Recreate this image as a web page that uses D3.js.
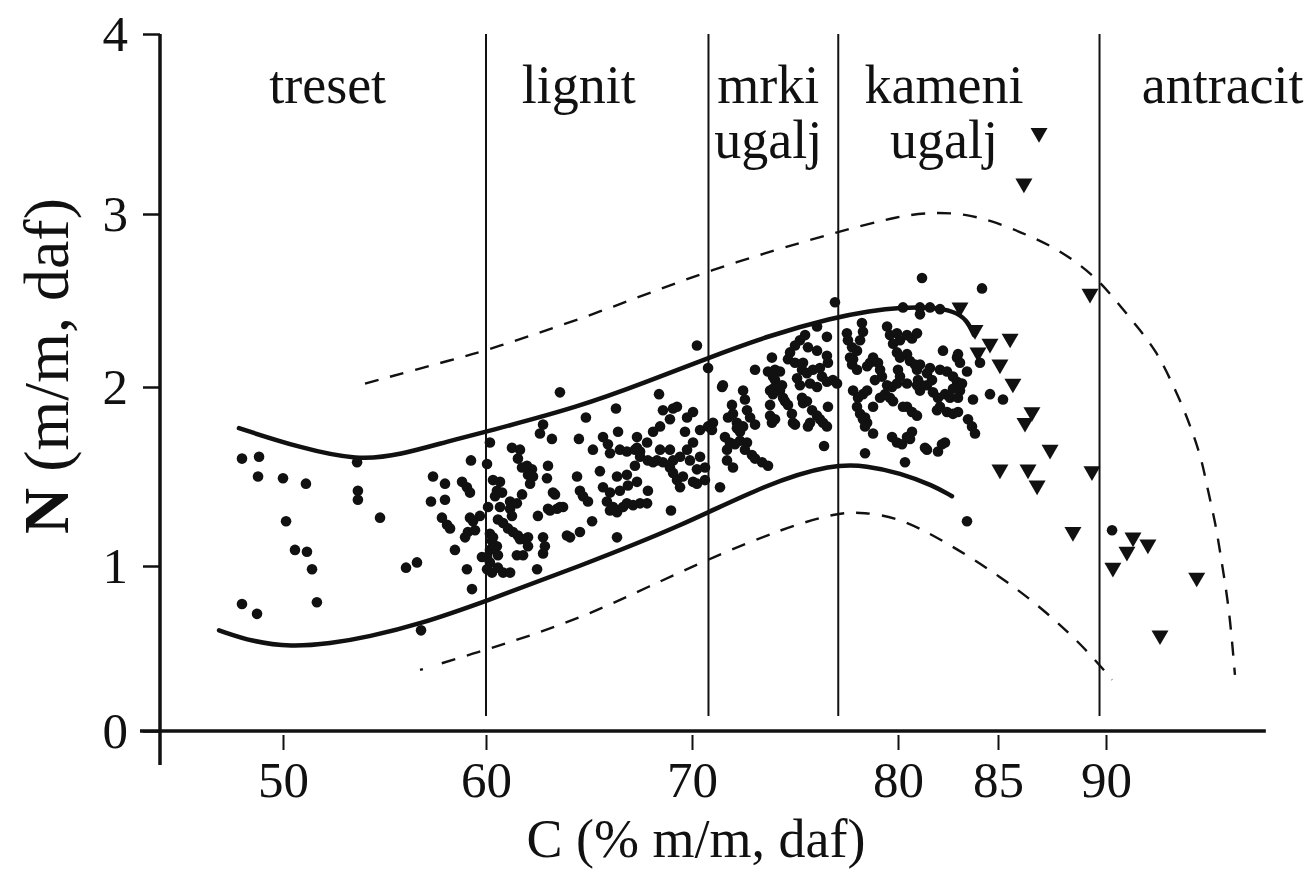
<!DOCTYPE html>
<html><head><meta charset="utf-8">
<script src="https://cdn.jsdelivr.net/npm/d3@7/dist/d3.min.js"></script>
<style>
html,body{margin:0;padding:0;background:#fff;}
svg{display:block;}
text{font-family:"Liberation Serif","Times New Roman",serif;fill:#111;}
</style>
</head><body>
<svg id="chart" width="1314" height="870"></svg>
<script>
// ---------- data ----------
const xTicks = [50, 60, 70, 80, 85, 90];
const yTicks = [0, 1, 2, 3, 4];
const xTitle = "C (% m/m, daf)";
const yTitleBold = "N";
const yTitleRest = " (m/m, daf)";
const rankBounds = [60, 70.8, 77.1, 89.7];
const rankLabels = [["treset"], ["lignit"], ["mrki", "ugalj"], ["kameni", "ugalj"], ["antracit"]];
const rankLabelC = [52.2, 64.5, 73.7, 82.3, 95.4];

const upperSolid = [[47.83,1.77],[50.84,1.66],[53.69,1.59],[55.76,1.62],[58.23,1.70],[60.0,1.75],[64.56,1.89],[67.82,2.03],[70.6,2.16],[73.79,2.30],[76.84,2.40],[78.64,2.44],[80.1,2.46],[81.75,2.46],[82.75,2.44],[83.45,2.39],[83.8,2.30]];
const lowerSolid = [[46.85,0.61],[48.52,0.54],[50.39,0.51],[52.32,0.53],[54.19,0.57],[56.8,0.65],[59.85,0.78],[64.56,1.0],[69.42,1.22],[73.64,1.46],[76.84,1.57],[78.5,1.56],[80.1,1.52],[81.75,1.45],[82.7,1.39]];
const upperDashed = [[54.04,2.02],[58.72,2.17],[60.0,2.21],[65.53,2.43],[70.83,2.68],[77.14,2.90],[80.1,2.99],[81.75,3.01],[83.45,3.0],[84.95,2.95],[86.34,2.88],[87.55,2.81],[88.66,2.72],[89.72,2.61],[90.65,2.47],[91.57,2.33],[92.36,2.20],[92.96,2.05],[93.56,1.89],[94.03,1.74],[94.44,1.59],[94.72,1.42],[95.05,1.25],[95.28,1.08],[95.51,0.90],[95.74,0.69],[95.97,0.34]];
const lowerDashed = [[56.75,0.37],[59.66,0.48],[62.23,0.58],[65.05,0.71],[67.82,0.87],[71.02,1.05],[74.42,1.21],[77.09,1.30],[78.3,1.30],[80.1,1.27],[82.45,1.13],[85.09,0.94],[87.27,0.72],[89.12,0.49],[90.28,0.31]];

const coalDots = [
[47.98,1.60],[48.82,1.61],[48.77,1.50],[50.0,1.49],[51.13,1.46],[50.15,1.25],[50.59,1.09],[51.18,1.08],[51.43,0.98],[47.98,0.77],[48.72,0.71],[51.67,0.78],[53.65,1.58],[53.69,1.42],[53.69,1.37],[54.78,1.27],[56.06,0.99],[56.6,1.02],[56.8,0.61],
[57.39,1.50],[57.98,1.46],[57.29,1.36],[57.98,1.37],[57.83,1.27],[58.08,1.23],[58.23,1.21],[58.82,1.47],[59.06,1.44],[59.21,1.41],[58.47,1.09],[59.06,0.98],[59.31,0.86],[59.21,1.27],[59.36,1.25],[59.11,1.19],[59.46,1.20],[59.7,1.28],[58.97,1.16],[59.8,1.05],[59.26,1.59],
[60.19,1.69],[60.05,1.57],[61.26,1.66],[61.65,1.65],[61.55,1.60],[61.75,1.55],[61.99,1.56],[62.04,1.51],[62.14,1.46],[63.01,1.56],[62.96,1.49],[63.35,1.40],[63.01,1.32],[63.45,1.32],[63.74,1.33],[62.52,1.28],[63.93,1.17],[64.08,1.16],[62.77,1.79],[62.62,1.74],[63.2,1.71],[60.34,1.48],[60.68,1.47],[60.53,1.42],[60.78,1.41],[60.44,1.39],[60.1,1.33],[60.68,1.33],[61.17,1.32],[61.26,1.28],[61.17,1.36],[61.5,1.35],[61.75,1.40],[60.58,1.26],[60.83,1.24],[61.07,1.21],[61.31,1.19],[61.55,1.17],[61.65,1.15],[61.89,1.15],[60.19,1.18],[60.29,1.14],[60.53,1.11],[60.58,1.06],[61.5,1.06],[61.8,1.06],[62.04,1.11],[62.04,1.16],[62.77,1.16],[62.86,1.11],[62.77,1.07],[60.19,1.02],[60.05,0.98],[60.29,0.96],[60.58,0.99],[60.83,0.96],[61.17,0.96],[62.48,0.98],[62.23,1.54],[62.28,1.50],[60.34,1.16],[60.19,1.09],[60.05,1.05],[63.59,1.33],
[63.59,1.97],[66.31,1.88],[64.85,1.83],[64.51,1.71],[65.19,1.65],[65.68,1.72],[65.92,1.68],[66.02,1.63],[66.41,1.75],[66.5,1.65],[66.84,1.64],[67.33,1.72],[68.4,1.96],[68.59,1.87],[69.08,1.88],[68.93,1.82],[68.45,1.78],[70.05,1.86],[69.76,1.83],[68.11,1.75],[67.82,1.69],[67.48,1.64],[67.23,1.56],[65.53,1.53],[64.42,1.50],[64.56,1.42],[64.71,1.39],[64.95,1.36],[63.25,1.41],[63.11,1.31],[65.15,1.25],[64.56,1.19],[66.36,1.16],[66.36,1.50],[66.84,1.51],[66.5,1.42],[66.02,1.41],[65.87,1.36],[66.02,1.31],[66.36,1.30],[66.84,1.35],[67.14,1.34],[67.48,1.35],[67.82,1.35],[66.89,1.45],[67.33,1.47],[67.86,1.42],[68.3,1.59],[68.59,1.58],[68.93,1.55],[69.08,1.52],[69.27,1.48],[69.42,1.44],[69.08,1.59],[69.42,1.61],[69.76,1.65],[70.05,1.69],[70.39,1.61],[70.24,1.54],[70.05,1.47],[69.56,1.50],[68.93,1.65],[68.45,1.65],[68.98,1.31],[70.39,1.76],[70.78,1.78],[71.02,1.80],[71.36,1.44],[71.46,2.00],[70.78,2.11],[70.24,2.24],[70.63,1.55],[70.63,1.48],[71.7,1.65],[71.7,1.59],[67.23,1.65],[67.48,1.61],[67.86,1.59],[68.11,1.58],[65.68,1.44],[66.17,1.33],[66.65,1.33],[67.33,1.66],[69.27,1.89],[69.66,1.75],[69.9,1.59],[70.24,1.46],
[76.94,2.49],[76.07,2.35],[75.49,2.30],[75.24,2.27],[75.0,2.24],[76.55,2.29],[75.63,2.23],[76.07,2.21],[74.76,2.20],[74.66,2.16],[75.0,2.14],[76.55,2.18],[76.6,2.14],[75.39,2.14],[75.34,2.10],[75.58,2.08],[75.87,2.10],[76.21,2.11],[76.31,2.06],[76.55,2.03],[76.84,2.04],[77.04,2.02],[73.88,2.17],[73.06,2.10],[73.69,2.09],[74.03,2.10],[74.27,2.09],[75.1,2.05],[75.24,2.01],[75.73,2.02],[76.07,2.0],[74.03,2.04],[74.37,2.01],[74.27,1.98],[73.93,1.99],[73.79,1.98],[74.42,1.94],[74.51,1.92],[75.39,1.91],[75.58,1.92],[73.79,1.90],[73.79,1.84],[73.88,1.80],[74.66,1.90],[74.85,1.85],[74.9,1.80],[75.0,1.79],[75.83,1.87],[76.07,1.84],[76.21,1.82],[76.36,1.80],[76.55,1.78],[76.6,1.89],[71.5,2.01],[72.48,1.98],[72.57,1.93],[72.67,1.87],[71.94,1.90],[71.99,1.85],[71.75,1.83],[72.82,1.83],[73.06,1.79],[72.18,1.80],[72.18,1.77],[72.33,1.75],[72.48,1.78],[71.6,1.72],[71.84,1.69],[72.09,1.68],[72.33,1.70],[72.67,1.69],[72.57,1.65],[72.91,1.62],[73.06,1.60],[73.4,1.58],[73.69,1.56],[71.99,1.55],[76.41,1.67],[70.97,1.76],[73.93,2.06],[73.93,1.96],[74.03,1.82],[75.34,1.94],[75.63,1.78],[75.73,1.80],
[78.25,2.37],[78.3,2.32],[78.16,2.27],[77.82,1.98],[78.06,1.94],[78.01,1.89],[78.16,1.85],[78.4,1.83],[78.5,1.80],[77.52,2.31],[77.57,2.27],[77.77,2.23],[78.01,2.21],[77.67,2.17],[77.77,2.13],[78.01,2.10],[78.5,2.12],[78.4,1.63],[77.82,2.16],[78.64,2.14],[78.79,2.17],[79.03,2.14],[79.13,2.10],[79.22,2.06],[78.88,2.04],[79.47,2.35],[79.61,2.30],[79.95,2.31],[80.1,2.27],[80.45,2.30],[80.7,2.28],[80.95,2.31],[79.76,2.25],[79.95,2.20],[80.1,2.17],[80.45,2.19],[80.6,2.15],[80.85,2.13],[80.0,2.10],[80.1,2.06],[79.95,2.02],[79.71,2.0],[79.47,2.01],[81.0,2.04],[81.2,2.01],[81.1,1.98],[81.45,2.08],[81.7,2.04],[82.1,2.10],[82.45,2.09],[82.75,2.06],[82.25,2.21],[82.95,2.17],[83.1,2.14],[83.45,2.09],[84.1,2.14],[80.95,2.10],[81.75,1.97],[82.0,1.94],[82.35,1.96],[82.6,1.94],[82.95,2.03],[83.1,1.98],[83.0,1.94],[83.75,1.93],[82.1,1.89],[82.45,1.86],[82.75,1.85],[83.0,1.86],[83.5,1.82],[83.7,1.78],[83.85,1.74],[80.45,1.89],[80.7,1.86],[80.95,1.84],[78.3,1.96],[78.5,1.98],[78.79,1.89],[78.3,1.82],[78.4,1.78],[79.13,1.94],[79.37,1.96],[79.61,1.94],[79.76,1.92],[78.79,1.74],[79.71,1.72],[79.95,1.69],[80.2,1.68],[80.45,1.72],[80.7,1.75],[80.35,1.58],[81.45,1.65],[82.0,1.64],[82.2,1.68],[82.35,1.69],[80.25,2.46],[81.1,2.46],[81.6,2.46],[82.1,2.45],[81.1,2.42],[81.2,2.63],[84.2,2.57],[83.45,1.25],[90.28,1.20],[84.6,1.96],
[80.45,2.02],[80.95,2.01],[81.45,2.01],[82.75,1.99],[83.2,2.02],[85.23,1.93],[80.25,1.89],[81.95,1.87],[80.6,1.71],[81.35,1.66],[83.0,2.19],[81.1,2.13],[81.6,2.11]
];

const anthraciteTriangles = [[86.9,3.45],[86.2,3.17],[89.26,2.54],[83.1,2.46],[83.85,2.33],[84.6,2.25],[85.56,2.28],[85.09,2.13],[85.69,2.02],[84.0,2.20],[86.57,1.86],[86.25,1.80],[87.41,1.65],[85.09,1.54],[86.39,1.54],[86.81,1.45],[89.35,1.53],[88.47,1.19],[90.32,0.99],[91.25,1.16],[91.94,1.12],[90.97,1.08],[94.2,0.93],[92.5,0.58]];

// ---------- layout ----------
const ink = "#111";
const svg = d3.select("#chart");
const x = d3.scaleLinear().domain(xTicks).range([283, 486, 692, 898, 998, 1106]);
const y = d3.scaleLinear().domain(yTicks).range([731, 566, 387, 214, 34]);
const axisX = 160;
const FONT = "'Liberation Serif','Times New Roman',serif";

// axes lines
svg.append("line").attr("x1", axisX).attr("x2", axisX).attr("y1", y(4)).attr("y2", y(0) + 34)
  .attr("stroke", ink).attr("stroke-width", 3.5);
svg.append("line").attr("x1", axisX - 20).attr("x2", x(97.4)).attr("y1", y(0)).attr("y2", y(0))
  .attr("stroke", ink).attr("stroke-width", 3.5);

// x axis ticks & labels
const gx = svg.append("g").attr("transform", `translate(0,${y(0)})`)
  .call(d3.axisBottom(x).tickValues(xTicks).tickSize(19).tickPadding(11).tickFormat(d3.format("d")));
gx.attr("font-family", FONT).attr("font-size", 51);
gx.select(".domain").remove();
gx.selectAll(".tick line").attr("stroke", ink).attr("stroke-width", 2).attr("y1", 4);
gx.selectAll(".tick text").attr("fill", ink);

// y axis ticks & labels
const gy = svg.append("g").attr("transform", `translate(${axisX},0)`)
  .call(d3.axisLeft(y).tickValues(yTicks).tickSize(17).tickPadding(15).tickFormat(d3.format("d")));
gy.attr("font-family", FONT).attr("font-size", 51);
gy.select(".domain").remove();
gy.selectAll(".tick line").attr("stroke", ink).attr("stroke-width", 2.5);
gy.selectAll(".tick text").attr("fill", ink).attr("dy", "0.33em");

// rank boundaries
svg.append("g").selectAll("line").data(rankBounds).join("line")
  .attr("x1", d => x(d)).attr("x2", d => x(d))
  .attr("y1", y(4)).attr("y2", y(0) - 15)
  .attr("stroke", ink).attr("stroke-width", 2);

// rank labels
const lbl = svg.append("g").attr("font-size", 54).attr("text-anchor", "middle");
rankLabels.forEach((lines, i) => {
  lines.forEach((t, j) => {
    lbl.append("text").attr("x", x(rankLabelC[i])).attr("y", 103 + j * 55).text(t);
  });
});

// curves
const line = d3.line().x(d => x(d[0])).y(d => y(d[1])).curve(d3.curveBasis);
svg.append("path").attr("d", line(upperSolid)).attr("fill", "none").attr("stroke", ink).attr("stroke-width", 4.5).attr("stroke-linecap", "round");
svg.append("path").attr("d", line(lowerSolid)).attr("fill", "none").attr("stroke", ink).attr("stroke-width", 4.5).attr("stroke-linecap", "round");
svg.append("path").attr("d", line(upperDashed)).attr("fill", "none").attr("stroke", ink).attr("stroke-width", 2.4).attr("stroke-dasharray", "14,12");
const lowerDash = [3, 20].concat(d3.range(40).flatMap(() => [14, 12]));
svg.append("path").attr("d", line(lowerDashed)).attr("fill", "none").attr("stroke", ink).attr("stroke-width", 2.4).attr("stroke-dasharray", lowerDash.join(","));

// dots
svg.append("g").selectAll("circle").data(coalDots).join("circle")
  .attr("cx", d => x(d[0])).attr("cy", d => y(d[1])).attr("r", 5.3).attr("fill", ink);

// triangles
const tri = d3.symbol(d3.symbolTriangle, 125);
svg.append("g").selectAll("path").data(anthraciteTriangles).join("path")
  .attr("d", tri)
  .attr("transform", d => `translate(${x(d[0])},${y(d[1])}) rotate(180)`)
  .attr("fill", ink);

// axis titles
svg.append("text").attr("x", 696).attr("y", 857).attr("text-anchor", "middle")
  .attr("font-size", 54).text(xTitle);
const yt = svg.append("text").attr("transform", "translate(68,366) rotate(-90)")
  .attr("text-anchor", "middle").attr("font-size", 64);
yt.append("tspan").attr("font-weight", "bold").text(yTitleBold);
yt.append("tspan").text(yTitleRest);
</script>
</body></html>
